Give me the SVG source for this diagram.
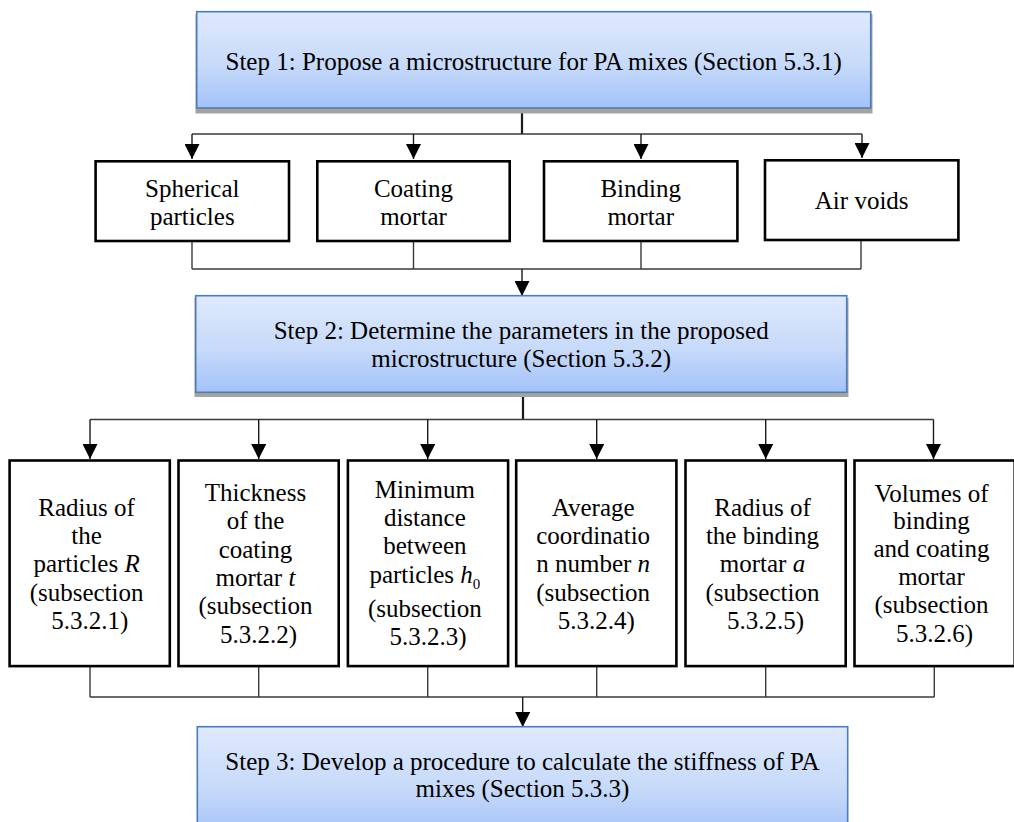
<svg xmlns="http://www.w3.org/2000/svg" width="1014" height="822" viewBox="0 0 1014 822">
  <defs>
    <linearGradient id="stepFill" x1="0" y1="0" x2="0" y2="1">
      <stop offset="0" stop-color="#dfe9fd"/>
      <stop offset="0.55" stop-color="#c7daf9"/>
      <stop offset="1" stop-color="#a3c2f8"/>
    </linearGradient>
    <marker id="arrow" viewBox="0 0 15 15" refX="15" refY="7.5" markerWidth="15" markerHeight="15" markerUnits="userSpaceOnUse" orient="auto">
      <path d="M0,0 L15,7.5 L0,15 Z" fill="#000"/>
    </marker>
  </defs>
  <style>
    text { font-family: "Liberation Serif", "Times New Roman", serif; font-size: 25px; fill: #000; text-anchor: middle; }
    .step { fill: url(#stepFill); stroke: #4a7ebb; stroke-width: 1.6; }
    .shadow { fill: #a3a3a3; }
    .box { fill: #fff; stroke: #000; stroke-width: 2.6; }
    .trunk { stroke: #1a1a1a; stroke-width: 2.2; fill: none; }
    .wire { stroke: #3a3a3a; stroke-width: 1.4; fill: none; }
    .drop { stroke: #1a1a1a; stroke-width: 1.4; fill: none; marker-end: url(#arrow); }
    .it { font-style: italic; }
    .sub { font-size: 15px; }
  </style>

  <rect width="1014" height="822" fill="#fff"/>

  <!-- connectors -->
  <g id="connectors">
    <!-- step 1 to components -->
    <line class="trunk" x1="522" y1="108" x2="522" y2="134"/>
    <line class="wire" x1="192" y1="134" x2="862" y2="134"/>
    <line class="drop" x1="192" y1="134" x2="192" y2="159"/>
    <line class="drop" x1="413.5" y1="134" x2="413.5" y2="159"/>
    <line class="drop" x1="641" y1="134" x2="641" y2="159"/>
    <line class="drop" x1="862" y1="134" x2="862" y2="158"/>
    <!-- components to step 2 -->
    <line class="wire" x1="192" y1="242" x2="192" y2="269"/>
    <line class="wire" x1="413.5" y1="242" x2="413.5" y2="269"/>
    <line class="wire" x1="641" y1="242" x2="641" y2="269"/>
    <line class="wire" x1="861" y1="241" x2="861" y2="269"/>
    <line class="wire" x1="192" y1="269" x2="861" y2="269"/>
    <line class="drop" x1="522" y1="269" x2="522" y2="296"/>
    <!-- step 2 to parameters -->
    <line class="trunk" x1="523" y1="392" x2="523" y2="419.5"/>
    <line class="wire" x1="90" y1="419.5" x2="933.5" y2="419.5"/>
    <line class="drop" x1="90" y1="419.5" x2="90" y2="459"/>
    <line class="drop" x1="258.7" y1="419.5" x2="258.7" y2="459"/>
    <line class="drop" x1="427.7" y1="419.5" x2="427.7" y2="459"/>
    <line class="drop" x1="596.7" y1="419.5" x2="596.7" y2="459"/>
    <line class="drop" x1="765.7" y1="419.5" x2="765.7" y2="459"/>
    <line class="drop" x1="933.5" y1="419.5" x2="933.5" y2="459"/>
    <!-- parameters to step 3 -->
    <line class="wire" x1="90" y1="667" x2="90" y2="697"/>
    <line class="wire" x1="258.7" y1="667" x2="258.7" y2="697"/>
    <line class="wire" x1="427.7" y1="667" x2="427.7" y2="697"/>
    <line class="wire" x1="596.7" y1="667" x2="596.7" y2="697"/>
    <line class="wire" x1="765.7" y1="667" x2="765.7" y2="697"/>
    <line class="wire" x1="934.3" y1="667" x2="934.3" y2="697"/>
    <line class="wire" x1="90" y1="697" x2="934.3" y2="697"/>
    <line class="drop" x1="522.7" y1="697" x2="522.7" y2="727"/>
  </g>

  <!-- step 1 -->
  <g id="step1">
    <rect class="shadow" x="195.5" y="14" width="677" height="99.5"/>
    <rect class="step" x="196.7" y="11.7" width="674" height="96.3"/>
    <text x="533.7" y="70">Step 1: Propose a microstructure for PA mixes (Section 5.3.1)</text>
  </g>

  <!-- microstructure components -->
  <g id="spherical-particles">
    <rect class="box" x="95.6" y="161.3" width="193.4" height="79.7"/>
    <text><tspan x="192.3" y="196.5">Spherical</tspan><tspan x="192.3" y="225">particles</tspan></text>
  </g>
  <g id="coating-mortar">
    <rect class="box" x="317.3" y="161.3" width="192.4" height="79.7"/>
    <text><tspan x="413.5" y="196.5">Coating</tspan><tspan x="413.5" y="225">mortar</tspan></text>
  </g>
  <g id="binding-mortar">
    <rect class="box" x="544" y="161.3" width="193.4" height="79.7"/>
    <text><tspan x="640.7" y="196.5">Binding</tspan><tspan x="640.7" y="225">mortar</tspan></text>
  </g>
  <g id="air-voids">
    <rect class="box" x="765" y="160.3" width="193.4" height="79.7"/>
    <text x="861.7" y="209">Air voids</text>
  </g>

  <!-- step 2 -->
  <g id="step2">
    <rect class="shadow" x="194.5" y="298" width="654" height="99"/>
    <rect class="step" x="195.7" y="295.7" width="651" height="96.6"/>
    <text><tspan x="521.2" y="339">Step 2: Determine the parameters in the proposed</tspan><tspan x="521.2" y="367">microstructure (Section 5.3.2)</tspan></text>
  </g>

  <!-- microstructure parameters -->
  <g id="radius-particles">
    <rect class="box" x="9.6" y="460.5" width="160.2" height="205.6"/>
    <text>
      <tspan x="89.7" y="515.7">Radius of</tspan>
      <tspan x="89.7" y="544">the</tspan>
      <tspan x="89.7" y="572.3">particles <tspan class="it">R</tspan></tspan>
      <tspan x="89.7" y="600.6">(subsection</tspan>
      <tspan x="89.7" y="629">5.3.2.1)</tspan>
    </text>
  </g>
  <g id="coating-thickness">
    <rect class="box" x="178.5" y="460.5" width="160.2" height="205.6"/>
    <text>
      <tspan x="258.6" y="501">Thickness</tspan>
      <tspan x="258.6" y="529.3">of the</tspan>
      <tspan x="258.6" y="557.6">coating</tspan>
      <tspan x="258.6" y="586">mortar <tspan class="it">t</tspan></tspan>
      <tspan x="258.6" y="614.3">(subsection</tspan>
      <tspan x="258.6" y="642.6">5.3.2.2)</tspan>
    </text>
  </g>
  <g id="minimum-distance">
    <rect class="box" x="347.9" y="460.5" width="160.2" height="205.6"/>
    <text>
      <tspan x="428" y="497.7">Minimum</tspan>
      <tspan x="428" y="526">distance</tspan>
      <tspan x="428" y="554.3">between</tspan>
      <tspan x="428" y="582.7">particles <tspan class="it">h</tspan><tspan class="sub" dy="6">0</tspan></tspan>
      <tspan x="428" y="617">(subsection</tspan>
      <tspan x="428" y="645.4">5.3.2.3)</tspan>
    </text>
  </g>
  <g id="coordination-number">
    <rect class="box" x="516.2" y="460.5" width="160.2" height="205.6"/>
    <text>
      <tspan x="596.3" y="515.7">Average</tspan>
      <tspan x="596.3" y="544">coordinatio</tspan>
      <tspan x="596.3" y="572.3">n number <tspan class="it">n</tspan></tspan>
      <tspan x="596.3" y="600.6">(subsection</tspan>
      <tspan x="596.3" y="629">5.3.2.4)</tspan>
    </text>
  </g>
  <g id="binding-radius">
    <rect class="box" x="685.5" y="460.5" width="160.2" height="205.6"/>
    <text>
      <tspan x="765.6" y="515.7">Radius of</tspan>
      <tspan x="765.6" y="544">the binding</tspan>
      <tspan x="765.6" y="572.3">mortar <tspan class="it">a</tspan></tspan>
      <tspan x="765.6" y="600.6">(subsection</tspan>
      <tspan x="765.6" y="629">5.3.2.5)</tspan>
    </text>
  </g>
  <g id="mortar-volumes">
    <rect class="box" x="854.5" y="460.5" width="160.2" height="205.6"/>
    <text>
      <tspan x="934.6" y="501.5">Volumes of</tspan>
      <tspan x="934.6" y="529">binding</tspan>
      <tspan x="934.6" y="557">and coating</tspan>
      <tspan x="934.6" y="585">mortar</tspan>
      <tspan x="934.6" y="613.3">(subsection</tspan>
      <tspan x="934.6" y="641.7">5.3.2.6)</tspan>
    </text>
  </g>

  <!-- step 3 -->
  <g id="step3">
    <rect class="step" x="197.3" y="726.7" width="650.4" height="110"/>
    <text><tspan x="522.5" y="770">Step 3: Develop a procedure to calculate the stiffness of PA</tspan><tspan x="522.5" y="797">mixes (Section 5.3.3)</tspan></text>
  </g>
</svg>
